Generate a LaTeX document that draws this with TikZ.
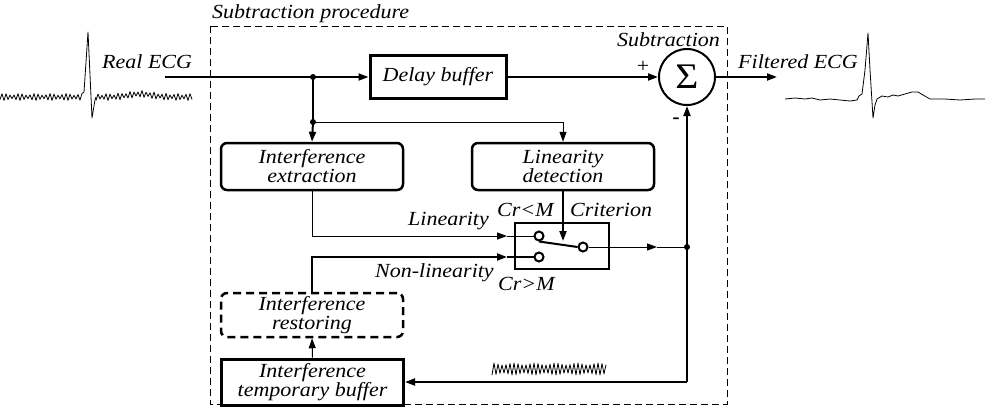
\documentclass[tikz,border=0pt]{standalone}
\usepackage{fontspec}
\usetikzlibrary{arrows.meta}
\newfontfamily\labfont{Liberation Serif}[FakeStretch=1.1]
\begin{document}
\begin{tikzpicture}[x=1pt,y=-1pt,
  every node/.style={font=\labfont\itshape\fontsize{20}{19}\selectfont, inner sep=0pt},
  arr/.style={-{Triangle[length=10pt,width=7pt]}},
  wire1/.style={line width=1pt},
  wire2/.style={line width=2pt},
  sqbox/.style={draw, line width=3pt, align=center},
  rbox/.style={draw, line width=2.5pt, rounded corners=6pt, align=center, minimum width=182pt, minimum height=47pt},
  dbox/.style={rbox, dash pattern=on 8pt off 5pt},
  contact/.style={circle, draw, line width=2pt, minimum size=9pt, inner sep=0pt},
  frame/.style={line width=1pt, dash pattern=on 7pt off 4pt}
]
\useasboundingbox (0,0) rectangle (987,416);

% frame
\draw[frame] (210,26) rectangle (727,404);
\node[anchor=base west] (title) at (212,18) {Subtraction procedure};

% boxes
\node[sqbox, minimum width=136pt, minimum height=43pt] (delay) at (438,77) {Delay buffer};
\node[circle, draw, line width=2pt, minimum size=56pt] (sigma) at (687,77) {\upshape\fontsize{36}{36}\selectfont Σ};
\node[rbox] (ext) at (312,166.5) {Interference\\extraction};
\node[rbox] (lind) at (563,166.5) {Linearity\\detection};
\node[sqbox, line width=2.5pt, minimum width=94pt, minimum height=46pt] (sw) at (562,246) {};
\node[dbox, minimum height=44pt] (rest) at (312,315) {Interference\\restoring};
\node[sqbox, minimum width=182pt, minimum height=46pt] (tbuf) at (312.5,382) {Interference\\temporary buffer};

% switch contacts
\node[contact] (c1) at (539,236) {};
\node[contact] (c2) at (539,257) {};
\node[contact] (c3) at (583,247) {};
\draw[wire2] (c1.south) -- (c3.west);

% labels
\node[anchor=base west] (lreal) at (102,68) {Real ECG};
\node[anchor=base west] (lfilt) at (738,68) {Filtered ECG};
\node[anchor=base west] (lsub) at (617,46) {Subtraction};
\node[anchor=base west] (llin) at (408,225) {Linearity};
\node[anchor=base west] (lnl) at (375,277) {Non-linearity};
\node[anchor=base west] (lcrl) at (497,216) {Cr<M};
\node[anchor=base west] (lcrit) at (570,216) {Criterion};
\node[anchor=base west] (lcrg) at (498,290) {Cr>M};
\node (lplus) at (643,67) {\upshape +};
\node (lminus) at (676,121) {\upshape\bfseries -};

% coordinates
\coordinate (inStart) at (165,77);
\coordinate (j1) at (313,77);
\coordinate (j2) at (313,122);
\coordinate (lintip) at (507,236);
\coordinate (nltip) at (507,257);
\coordinate (crittip) at (563,241);
\coordinate (outtip) at (657,247);
\coordinate (jout) at (687,247);
\coordinate (fbc) at (687,382);
\coordinate (outEnd) at (777,77);

% connectors
\draw[wire2, arr] (inStart) -- (delay.west);
\draw[wire2, arr] (delay.east) -- (sigma.west);
\draw[wire2, arr] (sigma.east) -- (outEnd);
\draw[wire2] (j1) -- (j2);
\draw[wire2, arr] (j2) -- (ext.north);
\draw[wire1, arr] (j2) -| (lind.north);
\draw[wire2, arr] (lind.south) -- (crittip);
\draw[wire1, arr] (ext.south) |- (lintip);
\draw[wire1] (lintip) -- (c1.west);
\draw[wire2, arr] (rest.north) |- (nltip);
\draw[wire2] (nltip) -- (c2.west);
\draw[wire1, arr] (c3.east) -- (outtip);
\draw[wire1] (outtip) -- (jout);
\draw[wire2, arr] (fbc) -- (sigma.south);
\draw[wire2, arr] (fbc) -- (tbuf.east);
\draw[wire1, arr] (tbuf.north) -- (rest.south);
\fill (j1) circle (3pt);
\fill (j2) circle (3pt);
\fill (jout) circle (3pt);

% real ECG
\draw[line width=0.8pt, line join=round]
  plot[domain=0:82, samples=42] (\x, {97 + (2.6+0.9*sin(23*\x))*cos(90*\x)})
  -- (84,92) -- (88,32) -- (92,118) -- (95,100) -- (96,97);
\draw[line width=0.8pt, line join=round]
  plot[domain=96:192, samples=49] (\x, {97 - 3*exp(-((\x-140)/16)^2) + (2.6+0.9*sin(31*\x))*cos(90*(\x-96))});

% filtered ECG
\draw[line width=0.8pt, line join=round]
  (785,99) -- (795,98) -- (805,99) -- (812,98) -- (820,100) -- (830,99) -- (840,100)
  -- (850,101) -- (857,100) -- (859,96) -- (862,94) -- (865,70) -- (868,33) -- (870,70)
  -- (873,118) -- (875,105) -- (877,99) -- (882,96) -- (888,97) -- (893,95) -- (898,96)
  -- (905,94) -- (912,92) -- (918,92) -- (923,95) -- (930,99) -- (945,99) -- (960,100)
  -- (975,99) -- (985,99);

% noise near feedback
\draw[line width=0.8pt, line join=round]
  plot[domain=492:606, samples=58] (\x, {369 + (5+1*sin(17*\x))*cos(90*(\x-492))});
\end{tikzpicture}
\end{document}
